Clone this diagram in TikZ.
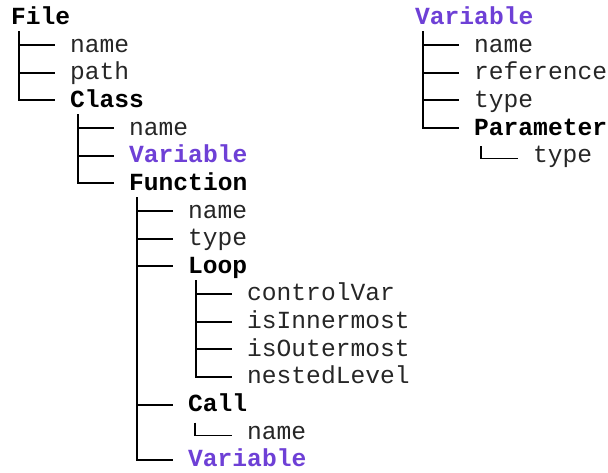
\documentclass[tikz,border=0pt]{standalone}
\usepackage{fontspec}
\setmonofont{Liberation Mono}
\usetikzlibrary{calc}
\definecolor{varpurple}{RGB}{110,64,214}
\tikzset{
  leaf/.style={anchor=base west, inner sep=0pt, font=\ttfamily\fontsize{24.6}{28}\selectfont, text=black!85},
  grp/.style={anchor=base west, inner sep=0pt, font=\ttfamily\bfseries\fontsize{24.6}{28}\selectfont, text=black},
  var/.style={grp, text=varpurple},
  branch/.style={draw=black, line width=2pt},
  smallbranch/.style={draw=black, line width=1.3pt},
}
\newcommand{\conn}[2]{\draw[branch] ([xshift=8pt,yshift=-7pt]#1.base west) |- ([xshift=-15pt,yshift=7pt]#2.base west);}
\newcommand{\sconn}[2]{\draw[smallbranch] ([xshift=7pt,yshift=-11pt]#1.base west) |- ([xshift=-15pt,yshift=4pt]#2.base west);}
\begin{document}
\begin{tikzpicture}[x=1pt,y=-1pt]
\useasboundingbox (0,0) rectangle (608,473);
% left tree
\node[grp]  (file)     at (11,{24.5+27.65*0})  {File};
\node[leaf] (fname)    at (70,{24.5+27.65*1})  {name};
\node[leaf] (fpath)    at (70,{24.5+27.65*2})  {path};
\node[grp]  (class)    at (70,{24.5+27.65*3})  {Class};
\node[leaf] (cname)    at (129,{24.5+27.65*4}) {name};
\node[var]  (cvar)     at (129,{24.5+27.65*5}) {Variable};
\node[grp]  (func)     at (129,{24.5+27.65*6}) {Function};
\node[leaf] (fnname)   at (188,{24.5+27.65*7}) {name};
\node[leaf] (fntype)   at (188,{24.5+27.65*8}) {type};
\node[grp]  (loop)     at (188,{24.5+27.65*9}) {Loop};
\node[leaf] (lcv)      at (247,{24.5+27.65*10}) {controlVar};
\node[leaf] (linner)   at (247,{24.5+27.65*11}) {isInnermost};
\node[leaf] (louter)   at (247,{24.5+27.65*12}) {isOutermost};
\node[leaf] (lnest)    at (247,{24.5+27.65*13}) {nestedLevel};
\node[grp]  (call)     at (188,{24.5+27.65*14}) {Call};
\node[leaf] (callname) at (247,{24.5+27.65*15}) {name};
\node[var]  (fnvar)    at (188,{24.5+27.65*16}) {Variable};
% right tree
\node[var]  (var)      at (415,{24.5+27.65*0}) {Variable};
\node[leaf] (vname)    at (474,{24.5+27.65*1}) {name};
\node[leaf] (vref)     at (474,{24.5+27.65*2}) {reference};
\node[leaf] (vtype)    at (474,{24.5+27.65*3}) {type};
\node[grp]  (param)    at (474,{24.5+27.65*4}) {Parameter};
\node[leaf] (ptype)    at (533,{24.5+27.65*5}) {type};
% connectors
\conn{file}{fname}
\conn{file}{fpath}
\conn{file}{class}
\conn{class}{cname}
\conn{class}{cvar}
\conn{class}{func}
\conn{func}{fnname}
\conn{func}{fntype}
\conn{func}{loop}
\conn{func}{call}
\conn{func}{fnvar}
\conn{loop}{lcv}
\conn{loop}{linner}
\conn{loop}{louter}
\conn{loop}{lnest}
\sconn{call}{callname}
\conn{var}{vname}
\conn{var}{vref}
\conn{var}{vtype}
\conn{var}{param}
\sconn{param}{ptype}
\end{tikzpicture}
\end{document}
